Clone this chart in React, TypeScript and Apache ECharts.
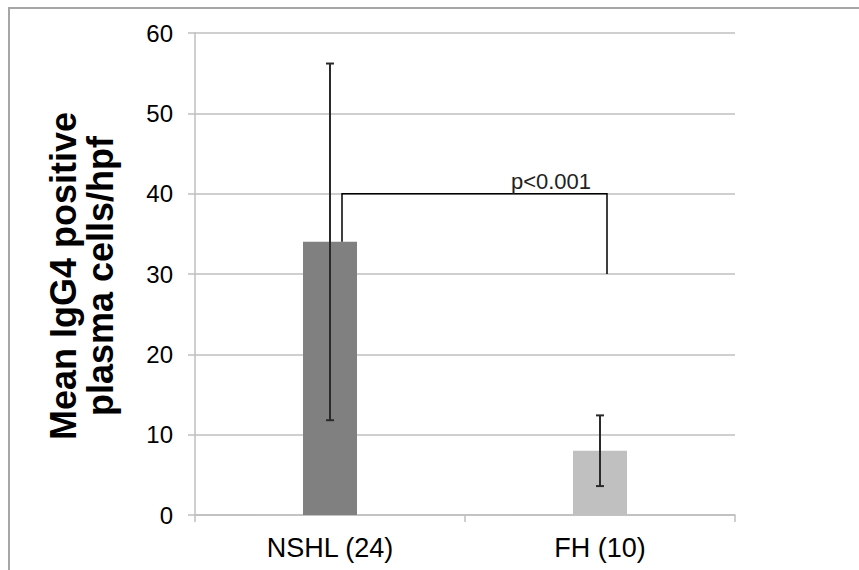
import React, { useEffect, useRef } from "react";
import * as echarts from "echarts";

const categories = ["NSHL (24)", "FH (10)"];
const means = [34, 8];
const errLow = [11.8, 3.6];
const errHigh = [56.2, 12.4];
const barColors = ["#808080", "#c0c0c0"];
const bracketLevels = [34, 40, 30]; // left start, top, right end
const pLabel = "p<0.001";
const yTitle = "Mean IgG4 positive\nplasma cells/hpf";

export default function App() {
  const ref = useRef<HTMLDivElement>(null);
  useEffect(() => {
    if (!ref.current) return;
    const chart = echarts.init(ref.current, undefined, { renderer: "svg" });
    const font = "Liberation Sans, Arial, sans-serif";
    chart.setOption({
      animation: false,
      backgroundColor: "#ffffff",
      grid: { left: 195, right: 124, top: 33, bottom: 55, containLabel: false },
      xAxis: {
        type: "category",
        data: categories,
        axisLine: { show: true, lineStyle: { color: "#bfbfbf", width: 1.5 } },
        axisTick: { show: true, length: 7, lineStyle: { color: "#bfbfbf", width: 1.5 } },
        axisLabel: { color: "#000", fontSize: 27, fontFamily: font, margin: 19 },
      },
      yAxis: {
        type: "value",
        min: 0,
        max: 60,
        interval: 10,
        axisLine: { show: true, lineStyle: { color: "#bfbfbf", width: 1.5 } },
        axisTick: { show: true, length: 7, lineStyle: { color: "#bfbfbf", width: 1.5 } },
        axisLabel: { color: "#000", fontSize: 24, fontFamily: font, margin: 22 },
        splitLine: { show: true, lineStyle: { color: "#bfbfbf", width: 1.5 } },
      },
      graphic: [
        {
          type: "rect",
          shape: { x: 9, y: 8, width: 1000, height: 1000 },
          style: { fill: "none", stroke: "#a6a6a6", lineWidth: 2 },
          silent: true,
        },
        {
          type: "text",
          x: 82,
          y: 276,
          rotation: Math.PI / 2,
          style: {
            text: yTitle,
            fontSize: 36,
            fontWeight: "bold",
            fontFamily: font,
            fill: "#000",
            align: "center",
            verticalAlign: "middle",
            lineHeight: 37,
          },
        },
      ],
      series: [
        {
          type: "bar",
          barWidth: 54,
          data: means.map((v, i) => ({ value: v, itemStyle: { color: barColors[i] } })),
          z: 2,
        },
        {
          type: "custom",
          z: 5,
          data: categories.map((_, i) => [i, errLow[i], errHigh[i]]),
          renderItem: (params: any, api: any) => {
            const lo = api.coord([api.value(0), api.value(1)]);
            const hi = api.coord([api.value(0), api.value(2)]);
            const cap = 4;
            const style = { stroke: "#2a2a2a", lineWidth: 2 };
            return {
              type: "group",
              children: [
                { type: "line", shape: { x1: lo[0], y1: lo[1], x2: hi[0], y2: hi[1] }, style },
                { type: "line", shape: { x1: lo[0] - cap, y1: lo[1], x2: lo[0] + cap, y2: lo[1] }, style },
                { type: "line", shape: { x1: hi[0] - cap, y1: hi[1], x2: hi[0] + cap, y2: hi[1] }, style },
              ],
            };
          },
        },
        {
          type: "custom",
          z: 6,
          data: [[0, bracketLevels[0], bracketLevels[1], bracketLevels[2]]],
          renderItem: (params: any, api: any) => {
            const a = api.coord([0, api.value(1)]);
            const t = api.coord([0, api.value(2)]);
            const b = api.coord([1, api.value(3)]);
            const xl = a[0] + 12;
            const xr = b[0] + 7;
            return {
              type: "group",
              children: [
                {
                  type: "polyline",
                  shape: { points: [[xl, a[1]], [xl, t[1]], [xr, t[1]], [xr, b[1]]] },
                  style: { stroke: "#000", lineWidth: 1.5, fill: "none" },
                },
                {
                  type: "text",
                  x: xr - 56,
                  y: t[1] - 1,
                  style: {
                    text: pLabel,
                    fontSize: 22,
                    fontFamily: font,
                    fill: "#222",
                    align: "center",
                    verticalAlign: "bottom",
                  },
                },
              ],
            };
          },
        },
      ],
    });
    return () => chart.dispose();
  }, []);
  return (
    <div
      ref={ref}
      style={{ position: "fixed", left: 0, top: 0, width: 859, height: 570 }}
    />
  );
}
